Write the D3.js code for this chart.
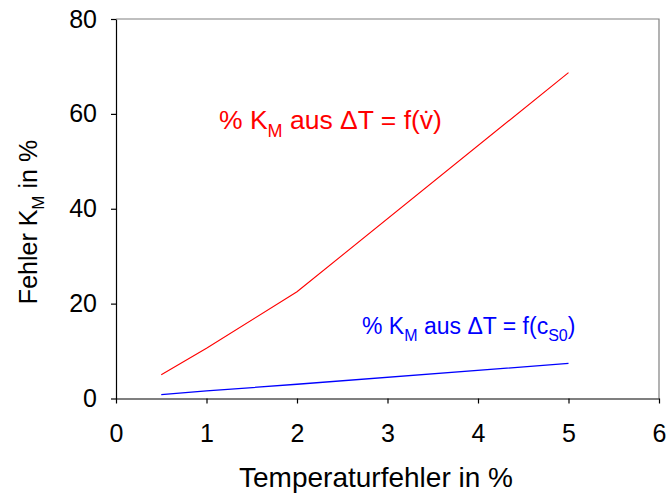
<!DOCTYPE html>
<html>
<head>
<meta charset="utf-8">
<script src="https://cdn.jsdelivr.net/npm/d3@7"></script>
<style>
  html, body { margin: 0; padding: 0; background: #fff; }
  svg text { font-family: "Liberation Sans", Arial, sans-serif; }
</style>
</head>
<body>
<svg id="chart" width="667" height="498"></svg>
<script>
const xValues = [0.5, 1, 2, 5];
const redValues = [5.0, 10.6, 22.5, 68.7];
const blueValues = [0.8, 1.6, 3.0, 7.4];
const xTicks = [0, 1, 2, 3, 4, 5, 6];
const yTicks = [0, 20, 40, 60, 80];

(function () {
const svg = d3.select("#chart");
const pLeft = 116, pRight = 659, pTop = 19, pBottom = 398.5;

const x = d3.scaleLinear().domain([0, 6]).range([pLeft, pRight]);
const y = d3.scaleLinear().domain([0, 80]).range([pBottom, pTop]);

// frame top/right (gray)
svg.append("path")
  .attr("d", `M${pLeft},${pTop}H${pRight}V${pBottom}`)
  .attr("fill", "none").attr("stroke", "#808080").attr("stroke-width", 1.2);

const xAxis = svg.append("g")
  .attr("transform", `translate(0,${pBottom})`)
  .call(d3.axisBottom(x).tickValues(xTicks).tickSize(5).tickSizeOuter(0).tickFormat(d3.format("d")));
const yAxis = svg.append("g")
  .attr("transform", `translate(${pLeft},0)`)
  .call(d3.axisLeft(y).tickValues(yTicks).tickSize(5).tickSizeOuter(0).tickPadding(14).tickFormat(d3.format("d")));

[xAxis, yAxis].forEach(g => {
  g.select(".domain").attr("stroke", "#000").attr("stroke-width", 1.2);
  g.selectAll(".tick line").attr("stroke", "#000").attr("stroke-width", 1.2);
  g.selectAll(".tick text").attr("font-size", 25).attr("fill", "#000")
    .attr("font-family", "'Liberation Sans', Arial, sans-serif");
});
xAxis.selectAll(".tick text").attr("dy", "0").attr("y", 43.5);

const line = d3.line().x(d => x(d[0])).y(d => y(d[1]));
svg.append("path")
  .datum(xValues.map((v, i) => [v, redValues[i]]))
  .attr("d", line).attr("fill", "none").attr("stroke", "#ff0000").attr("stroke-width", 1.1);
svg.append("path")
  .datum(xValues.map((v, i) => [v, blueValues[i]]))
  .attr("d", line).attr("fill", "none").attr("stroke", "#0000ff").attr("stroke-width", 1.3);

// axis titles
svg.append("text")
  .attr("x", 376).attr("y", 487)
  .attr("text-anchor", "middle").attr("font-size", 28).attr("fill", "#000")
  .text("Temperaturfehler in %");

const yl = svg.append("text")
  .attr("transform", "translate(37,222) rotate(-90)")
  .attr("text-anchor", "middle").attr("font-size", 25).attr("fill", "#000");
yl.append("tspan").text("Fehler K");
yl.append("tspan").attr("font-size", 17).attr("dy", 7).text("M");
yl.append("tspan").attr("dy", -7).text(" in %");

// annotations
const red = svg.append("text").attr("x", 219).attr("y", 129)
  .attr("font-size", 26.5).attr("fill", "#ff0000");
red.append("tspan").text("% K");
red.append("tspan").attr("font-size", 18).attr("dy", 8).text("M");
red.append("tspan").attr("dy", -8).text(" aus \u0394T = f(");
red.append("tspan").text("v\u0307");
red.append("tspan").text(")");

const blue = svg.append("text").attr("x", 362).attr("y", 334)
  .attr("font-size", 23).attr("fill", "#0000ff");
blue.append("tspan").text("% K");
blue.append("tspan").attr("font-size", 16).attr("dy", 7).text("M");
blue.append("tspan").attr("dy", -7).text(" aus \u0394T = f(c");
blue.append("tspan").attr("font-size", 16).attr("dy", 7).text("S0");
blue.append("tspan").attr("dy", -7).text(")");
})();
</script>
</body>
</html>
